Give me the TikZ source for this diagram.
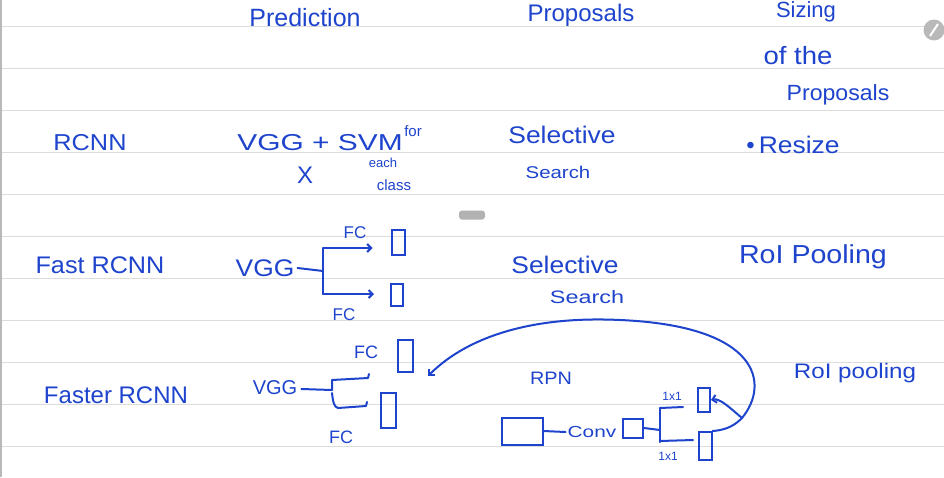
\documentclass[tikz,border=0pt]{standalone}
\usepackage{fontspec}
\setmainfont{Liberation Sans}
\usetikzlibrary{arrows.meta}
\definecolor{ink}{RGB}{30,68,205}
\definecolor{rulec}{RGB}{220,220,220}
\newcommand{\hws}[1]{\fontsize{#1}{#1}\selectfont}
\tikzset{
  hw/.style={text=ink, inner sep=0pt, font=\hws{#1}},
  hw/.default=20,
  pen/.style={draw=ink, line width=2pt, line cap=round, line join=round},
  tipend/.style={-{Straight Barb[length=4pt,width=8pt]}},
  boxn/.style={draw=ink, line width=2pt, inner sep=0pt},
  ruleline/.style={draw=rulec, line width=1pt},
}
\begin{document}
\begin{tikzpicture}[x=1pt,y=-1pt]
\fill[white] (0,0) rectangle (944,477);
\useasboundingbox (0,0) rectangle (944,477);
\foreach \yy in {26,68,...,446} \draw[ruleline] (0,\yy) -- (944,\yy);
\draw[gray!55, line width=1.5pt] (1,0) -- (1,477);
\node[circle, fill=gray!55, minimum size=21pt, inner sep=0pt] (scroll) at (934,30) {};
\draw[white, line width=2pt] ([shift={(-4,6)}]scroll.center) -- ([shift={(4,-6)}]scroll.center);
\node[rounded corners=3pt, fill=gray!60, minimum width=26pt, minimum height=9pt, inner sep=0pt] (pill) at (472,215) {};

% header row (cut)
\node[hw=25] (hpred) at (305,18) {Prediction};
\node[hw=24] (hprop) at (581,15) {Proposals};
\node[hw=22] (hsiz) at (806,12) {Sizing};
\node[hw=25] (hof) at (798,56) {\scalebox{1.1}[1]{of the}};
\node[hw=22] (hprop2) at (838,95) {\scalebox{1.05}[1]{Proposals}};

% RCNN row
\node[hw=23] (rcnn) at (90,143) {\scalebox{1.1}[1]{RCNN}};
\node[hw=23] (vggsvm) at (320,143) {\scalebox{1.3}[1]{VGG + SVM}};
\node[hw=15] (for1) at (413,131) {for};
\node[hw=24] (x1) at (305,175) {X};
\node[hw=13] (each) at (383,163) {each};
\node[hw=15] (class) at (394,185) {class};
\node[hw=24] (sel1) at (562,135) {\scalebox{1.1}[1]{Selective}};
\node[hw=17] (sea1) at (558,172) {\scalebox{1.2}[1]{Search}};
\node[hw=24] (resize) at (793,145) {\textbullet\,\scalebox{1.1}[1]{Resize}};

% Fast RCNN row
\node[hw=24] (fast) at (100,265) {\scalebox{1.05}[1]{Fast RCNN}};
\node[hw=24] (vgg2) at (265,268) {\scalebox{1.1}[1]{VGG}};
\coordinate (b2) at (323,271);
\coordinate (b2t) at (323,248);
\coordinate (b2b) at (323,294);
\node[boxn, minimum width=13pt, minimum height=25pt] (fc2t) at (398,242) {};
\node[boxn, minimum width=12pt, minimum height=22pt] (fc2b) at (397,295) {};
\draw[pen] (vgg2.east) ++(3,0) -- (b2);
\draw[pen] (b2t) -- (b2b);
\draw[pen, tipend, shorten >=18pt] (b2t) -- (b2t -| fc2t.west);
\draw[pen, tipend, shorten >=16pt] (b2b) -- (b2b -| fc2b.west);
\node[hw=17] (fc2tl) at (355,233) {FC};
\node[hw=17] (fc2bl) at (344,315) {FC};
\node[hw=24] (sel2) at (565,265) {\scalebox{1.1}[1]{Selective}};
\node[hw=18] (sea2) at (587,297) {\scalebox{1.3}[1]{Search}};
\node[hw=26] (roi2) at (813,257) {\scalebox{1.1}[1]{RoI Pooling}};

% Faster RCNN row
\node[hw=24] (faster) at (116,395) {Faster RCNN};
\node[hw=20] (vgg3) at (275,388) {VGG};
\coordinate (b3) at (332,390);
\draw[pen] (vgg3.east) ++(4,1) -- (b3);
\draw[pen] (b3) -- ++(0,-10) -- ++(36,-2) -- ++(1,-4);
\draw[pen] (b3) ++(0,3) .. controls (333,402) and (334,407) .. (338,408) -- ++(28,-2) -- ++(1,-4);
\node[boxn, minimum width=15pt, minimum height=32pt] (fc3t) at (405,356) {};
\node[boxn, minimum width=15pt, minimum height=35pt] (fc3b) at (388,410) {};
\node[hw=18] (fc3tl) at (366,352) {FC};
\node[hw=18] (fc3bl) at (341,437) {FC};
\node[hw=18] (rpn) at (551,378) {\scalebox{1.1}[1]{RPN}};
\node[hw=21] (roi3) at (855,373) {\scalebox{1.15}[1]{RoI pooling}};

% RPN chain
\node[boxn, minimum width=41pt, minimum height=27pt] (fmap) at (522,431) {};
\node[hw=16] (conv) at (592,432) {\scalebox{1.3}[1]{Conv}};
\node[boxn, minimum width=20pt, minimum height=19pt] (cbox) at (633,428) {};
\draw[pen] (fmap.east) -- ([xshift=-2pt]conv.west);
\coordinate (b4) at (660,430);
\draw[pen] (cbox.east) -- (b4);
\draw[pen] (660,408) -- (660,442);
\draw[pen] (660,408) -- (683,407);
\draw[pen] (660,441) -- (693,440);
\node[hw=12] (l11a) at (672,396) {1x1};
\node[hw=12] (l11b) at (668,456) {1x1};
\node[boxn, minimum width=12pt, minimum height=24pt] (r1) at (704,400) {};
\node[boxn, minimum width=13pt, minimum height=28pt] (r2) at (705,446) {};
\coordinate (J) at (742,418);
\draw[pen, tipend] (J) .. controls (730,408) and (720,398) .. (r1.east);
\draw[pen] (r2.north east) .. controls (728,430) and (736,424) .. (J);
\coordinate (tipA) at (428,376);
\draw[pen, tipend] (J) .. controls (770,384) and (760,326) .. (620,320)
   .. controls (538,316) and (470,334) .. (tipA);
\end{tikzpicture}
\end{document}
